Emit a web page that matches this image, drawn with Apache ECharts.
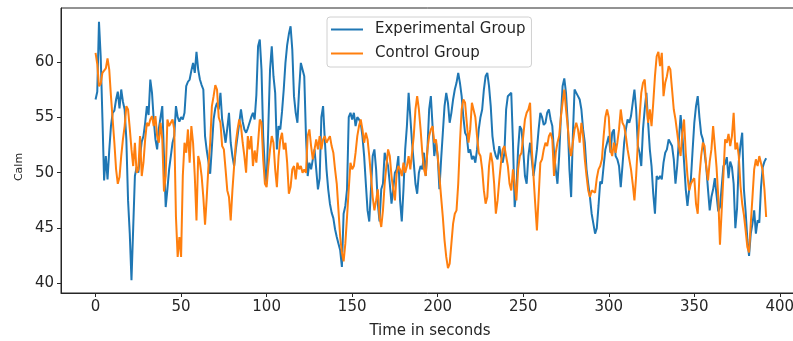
<!DOCTYPE html>
<html>
<head>
<meta charset="utf-8">
<script src="https://cdn.jsdelivr.net/npm/echarts@6/dist/echarts.min.js"></script>
<style>
  html, body { margin: 0; padding: 0; background: #fff; }
  #chart { width: 793px; height: 341px; }
</style>
</head>
<body>
<div id="chart"></div>
<script>
// Calm score per second
const experimental = [
  56.6, 57.3, 63.6, 60.5, 55.0, 49.3, 51.5, 49.4, 52.0, 54.2,
  55.4, 55.6, 56.6, 57.3, 55.8, 57.5, 56.4, 55.7, 53.0, 47.5,
  44.5, 40.3, 45.0, 49.7, 50.5, 50.0, 51.5, 52.8, 53.3, 54.5,
  56.0, 55.2, 58.4, 57.2, 54.8, 53.0, 52.1, 54.0, 55.0, 56.0,
  51.5, 46.9, 48.5, 50.3, 51.5, 52.7, 53.3, 56.0, 55.0, 54.6,
  55.0, 54.8, 55.4, 57.8, 58.2, 58.4, 59.2, 59.9, 59.0, 60.9,
  59.3, 58.4, 57.9, 57.5, 53.3, 52.0, 51.0, 49.9, 52.3, 54.8,
  55.8, 56.3, 55.7, 57.2, 54.8, 53.8, 52.7, 54.0, 55.4, 52.7,
  51.5, 50.6, 52.1, 53.3, 54.5, 55.7, 54.6, 53.9, 53.6, 54.0,
  54.5, 55.0, 55.4, 54.8, 57.0, 61.4, 62.0, 59.3, 53.3, 50.3,
  49.0, 54.2, 59.3, 61.4, 58.7, 57.2, 52.1, 54.2, 53.9, 55.5,
  57.5, 59.9, 61.5, 62.5, 63.2, 61.1, 56.9, 55.4, 54.5, 57.5,
  59.9, 60.0, 58.7, 53.3, 49.7, 50.9, 50.3, 51.2, 52.1, 50.3,
  48.5, 49.5, 55.0, 56.0, 53.0, 50.3, 48.5, 47.2, 46.4, 45.9,
  44.9, 44.2, 43.6, 43.0, 41.5, 46.3, 47.0, 48.5, 55.0, 55.4,
  54.8, 55.4, 54.2, 55.0, 54.8, 54.5, 53.3, 51.5, 49.0, 46.6,
  45.6, 48.5, 51.5, 52.1, 50.3, 47.2, 45.6, 48.5, 49.0, 51.8,
  51.2, 50.6, 49.0, 47.2, 48.5, 50.0, 50.3, 51.5, 47.5, 45.6,
  48.5, 52.1, 54.2, 57.2, 55.0, 52.7, 50.9, 49.0, 48.1, 50.0,
  50.6, 50.3, 51.8, 49.7, 52.1, 55.7, 56.9, 54.2, 51.5, 52.7,
  51.5, 48.5, 51.2, 53.6, 56.0, 57.2, 56.3, 54.5, 55.4, 56.6,
  57.5, 58.1, 59.0, 58.1, 56.9, 55.0, 53.6, 53.3, 51.8, 52.1,
  51.2, 51.5, 50.9, 52.1, 53.9, 55.0, 55.7, 57.5, 58.7, 59.0,
  57.8, 56.0, 53.3, 52.1, 51.5, 51.2, 52.4, 51.5, 50.9, 51.8,
  55.7, 56.9, 57.0, 57.2, 52.7, 46.9, 48.5, 52.1, 54.2, 53.9,
  52.1, 49.7, 49.0, 51.5, 52.7, 51.2, 49.7, 50.8, 52.1, 53.9,
  55.4, 55.0, 54.3, 54.5, 55.4, 55.7, 54.8, 54.2, 51.8, 50.3,
  49.0, 51.5, 55.0, 57.8, 58.5, 57.2, 54.5, 50.3, 47.8, 53.3,
  57.5, 57.2, 56.9, 56.6, 55.7, 53.9, 52.7, 50.3, 49.0, 47.8,
  46.3, 45.4, 44.5, 45.0, 47.0, 49.2, 49.0, 50.6, 52.1, 52.7,
  53.3, 51.8, 53.6, 53.9, 51.5, 51.2, 50.6, 48.7, 50.6, 52.7,
  53.9, 54.8, 54.5, 55.1, 56.3, 57.5, 55.7, 52.4, 51.8, 50.6,
  53.9, 55.7, 57.2, 54.5, 52.1, 50.6, 48.1, 46.3, 49.7, 49.4,
  49.7, 49.4, 50.9, 51.8, 52.1, 53.0, 52.7, 52.4, 51.2, 49.0,
  50.6, 53.0, 55.2, 53.5, 51.0, 48.5, 47.0, 48.5, 49.4, 52.0,
  54.5, 56.0, 56.9, 55.0, 53.5, 53.0, 51.8, 50.5, 48.5, 46.6,
  47.8, 48.5, 49.5, 48.0, 46.5, 46.9, 48.7, 50.6, 50.8, 51.4,
  49.5, 51.0, 50.5, 49.0, 45.0, 46.8, 51.0, 52.5, 53.6, 48.5,
  46.5, 44.0, 42.5, 44.5, 45.4, 46.6, 44.5, 45.7, 45.5, 48.7,
  50.5, 51.0, 51.3
];

const control = [
  60.8, 59.8, 57.8, 58.0, 59.0, 59.2, 59.4, 60.3, 59.3, 56.9,
  54.8, 52.7, 50.3, 49.0, 49.6, 51.5, 53.0, 54.2, 56.0, 55.7,
  54.0, 52.1, 50.6, 52.7, 50.0, 50.3, 53.3, 49.7, 50.9, 53.0,
  54.5, 54.2, 54.8, 55.1, 54.2, 55.1, 53.3, 52.7, 54.5, 53.0,
  48.3, 49.7, 54.8, 54.2, 54.5, 54.8, 53.9, 46.0, 42.4, 44.2,
  42.4, 49.7, 52.7, 51.8, 53.9, 50.9, 54.2, 52.7, 49.7, 45.7,
  51.5, 50.9, 49.7, 47.8, 45.3, 47.8, 50.6, 52.7, 56.0, 56.9,
  57.9, 57.5, 55.0, 54.5, 52.4, 52.1, 50.3, 48.4, 47.8, 45.7,
  48.4, 50.6, 52.7, 53.9, 54.8, 54.2, 52.7, 51.5, 50.0, 53.3,
  52.1, 53.3, 50.6, 52.0, 50.9, 52.7, 54.8, 54.5, 51.2, 49.0,
  48.7, 50.6, 52.1, 53.3, 52.7, 50.3, 48.7, 51.5, 53.0, 53.6,
  52.1, 52.7, 50.9, 48.1, 48.7, 50.3, 50.6, 49.4, 50.9, 50.3,
  50.6, 50.0, 50.3, 50.0, 53.3, 53.9, 52.4, 51.2, 52.1, 53.0,
  52.1, 53.3, 52.1, 53.0, 53.3, 52.7, 53.0, 53.3, 52.4, 51.8,
  50.3, 49.0, 46.6, 44.2, 42.8, 42.0, 43.6, 46.0, 48.5, 50.9,
  50.3, 50.6, 51.8, 53.3, 54.2, 54.8, 53.9, 52.7, 53.6, 53.0,
  51.5, 49.7, 47.8, 46.6, 47.5, 48.5, 46.0, 45.1, 46.6, 49.0,
  50.6, 52.1, 51.5, 49.7, 48.5, 47.5, 49.9, 50.6, 50.3, 49.7,
  50.9, 50.0, 50.6, 51.5, 50.3, 51.8, 53.3, 55.7, 56.9, 55.7,
  53.9, 51.8, 50.3, 49.7, 52.1, 53.3, 53.9, 54.2, 52.7, 53.0,
  51.5, 49.7, 47.8, 46.0, 43.9, 42.4, 41.4, 41.8, 43.6, 45.4,
  46.3, 46.6, 49.0, 52.7, 55.7, 56.6, 56.3, 54.5, 52.7, 53.9,
  56.3, 56.3, 55.0, 53.3, 51.8, 51.5, 50.3, 48.4, 47.2, 47.8,
  50.6, 51.8, 50.9, 49.0, 46.3, 47.5, 49.3, 50.9, 52.1, 52.4,
  51.5, 50.6, 49.0, 48.4, 50.3, 49.0, 47.5, 50.3, 51.5, 51.8,
  53.3, 54.8, 55.4, 55.7, 56.3, 52.1, 49.7, 47.2, 44.8, 47.8,
  50.9, 51.2, 52.1, 52.7, 52.4, 53.3, 53.6, 53.0, 49.7, 51.8,
  52.7, 53.3, 55.0, 56.3, 57.5, 55.7, 54.2, 52.4, 51.5, 52.7,
  53.9, 54.5, 53.9, 52.7, 54.5, 53.3, 51.2, 49.7, 48.4, 47.8,
  48.4, 48.5, 48.2, 49.5, 50.3, 50.6, 51.2, 53.3, 55.0, 55.7,
  55.0, 52.1, 51.5, 52.7, 51.8, 52.7, 53.9, 55.7, 54.5, 54.2,
  53.3, 52.1, 51.2, 50.3, 49.0, 47.5, 49.7, 52.7, 55.0, 57.2,
  58.1, 58.4, 56.3, 54.5, 55.7, 54.2, 56.3, 58.7, 60.5, 60.9,
  59.6, 60.8, 56.9, 58.1, 58.7, 59.6, 59.3, 57.5, 55.7, 54.8,
  53.6, 52.4, 51.5, 53.6, 54.8, 51.8, 49.7, 48.4, 49.0, 49.3,
  49.5, 47.2, 46.3, 49.7, 51.5, 52.7, 52.4, 50.5, 49.3, 51.0,
  52.1, 54.2, 52.4, 50.5, 47.8, 43.5, 46.6, 49.7, 53.0, 52.7,
  53.5, 52.4, 53.3, 55.4, 52.1, 52.7, 51.5, 48.8, 47.2, 46.2,
  44.8, 43.3, 42.8, 45.4, 47.8, 50.3, 51.2, 50.6, 51.5, 51.6,
  50.2, 48.5, 46.0
];

const seriesNames = ['Experimental Group', 'Control Group'];
const seriesColors = ['#1f77b4', '#ff7f0e'];
const xTicks = [0, 50, 100, 150, 200, 250, 300, 350, 400];
const yTicks = [40, 45, 50, 55, 60];

const ink = '#262626';
const font = 'DejaVu Sans';

// one point per second
const toPoints = values => values.map((v, i) => [i, v]);

const chart = echarts.init(document.getElementById('chart'));

chart.setOption({
  animation: false,
  backgroundColor: '#fff',
  textStyle: { fontFamily: font, color: ink },
  // the plot frame runs past the right edge of the picture
  grid: {
    left: 61,
    top: 8,
    width: 738,
    height: 285,
    outerBoundsMode: 'none',
    containLabel: false,
    show: true,
    borderColor: ink,
    borderWidth: 1
  },
  legend: {
    orient: 'vertical',
    left: 327,
    top: 17,
    padding: [4, 6, 5, 4],
    itemGap: 7,
    itemWidth: 32,
    itemHeight: 2,
    icon: 'rect',
    backgroundColor: '#fff',
    borderColor: '#d0d0d0',
    borderWidth: 1,
    borderRadius: 3,
    data: seriesNames,
    textStyle: {
      fontFamily: font,
      fontSize: 15,
      lineHeight: 17,
      color: ink,
      padding: [0, 0, 0, 7]
    }
  },
  graphic: [{
    type: 'text',
    x: 19,
    y: 167,
    rotation: Math.PI / 2,
    style: {
      text: 'Calm',
      align: 'center',
      verticalAlign: 'middle',
      fontFamily: font,
      fontSize: 11,
      fill: ink
    }
  }],
  xAxis: {
    type: 'value',
    min: -20.2,
    max: 411.2,
    name: 'Time in seconds',
    nameLocation: 'middle',
    nameGap: 31,
    nameTextStyle: { fontFamily: font, fontSize: 15, color: ink },
    axisLine: { show: true, onZero: false, lineStyle: { color: ink, width: 1 } },
    axisTick: { show: true, customValues: xTicks, length: 4, lineStyle: { color: ink } },
    axisLabel: { customValues: xTicks, margin: 7, fontFamily: font, fontSize: 15, color: ink },
    splitLine: { show: false }
  },
  yAxis: {
    type: 'value',
    min: 39.15,
    max: 64.85,
    axisLine: { show: true, onZero: false, lineStyle: { color: ink, width: 1 } },
    axisTick: { show: true, customValues: yTicks, length: 4, lineStyle: { color: ink } },
    axisLabel: { customValues: yTicks, margin: 7, fontFamily: font, fontSize: 15, color: ink },
    splitLine: { show: false }
  },
  series: seriesNames.map((name, k) => ({
    name: name,
    type: 'line',
    data: toPoints(k === 0 ? experimental : control),
    symbol: 'none',
    lineStyle: { color: seriesColors[k], width: 2 },
    itemStyle: { color: seriesColors[k] }
  }))
});
</script>
</body>
</html>
